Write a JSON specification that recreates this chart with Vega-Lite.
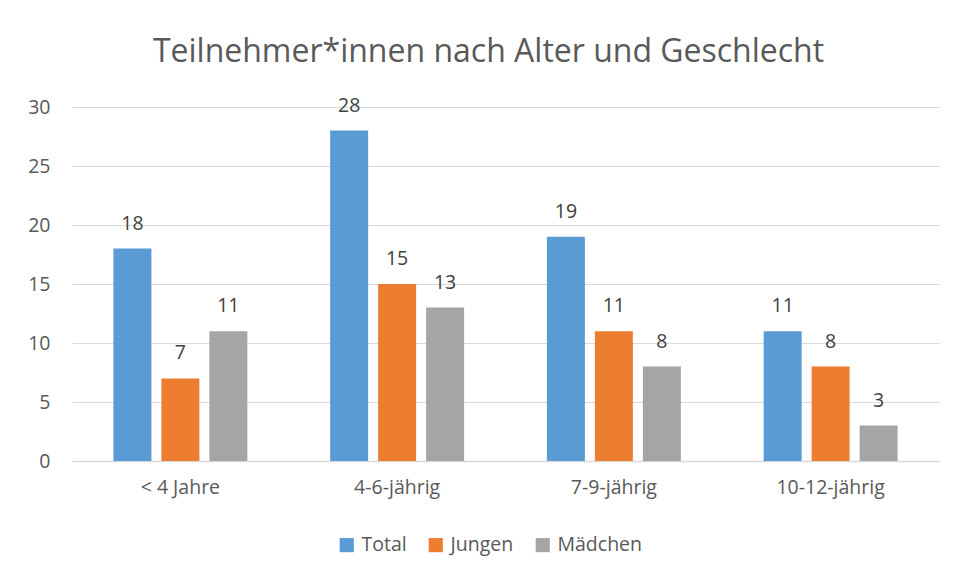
{
  "$schema": "https://vega.github.io/schema/vega-lite/v6.json",
  "width": 867,
  "height": 354,
  "autosize": "none",
  "padding": {"left": 72, "top": 107, "right": 17, "bottom": 118},
  "background": "white",
  "title": {
    "text": "Teilnehmer*innen nach Alter und Geschlecht",
    "font": "Open Sans",
    "fontSize": 32,
    "fontWeight": "normal",
    "color": "#595959",
    "dx": -17,
    "offset": 27
  },
  "data": {
    "values": [
      {"Alter": "< 4 Jahre", "Gruppe": "Total", "Anzahl": 18},
      {"Alter": "< 4 Jahre", "Gruppe": "Jungen", "Anzahl": 7},
      {"Alter": "< 4 Jahre", "Gruppe": "Mädchen", "Anzahl": 11},
      {"Alter": "4-6-jährig", "Gruppe": "Total", "Anzahl": 28},
      {"Alter": "4-6-jährig", "Gruppe": "Jungen", "Anzahl": 15},
      {"Alter": "4-6-jährig", "Gruppe": "Mädchen", "Anzahl": 13},
      {"Alter": "7-9-jährig", "Gruppe": "Total", "Anzahl": 19},
      {"Alter": "7-9-jährig", "Gruppe": "Jungen", "Anzahl": 11},
      {"Alter": "7-9-jährig", "Gruppe": "Mädchen", "Anzahl": 8},
      {"Alter": "10-12-jährig", "Gruppe": "Total", "Anzahl": 11},
      {"Alter": "10-12-jährig", "Gruppe": "Jungen", "Anzahl": 8},
      {"Alter": "10-12-jährig", "Gruppe": "Mädchen", "Anzahl": 3}
    ]
  },
  "encoding": {
    "x": {
      "field": "Alter",
      "type": "nominal",
      "sort": ["< 4 Jahre", "4-6-jährig", "7-9-jährig", "10-12-jährig"],
      "scale": {"paddingInner": 0.382, "paddingOuter": 0.191},
      "axis": {
        "title": null,
        "labelAngle": 0,
        "labelFont": "Open Sans",
        "labelFontSize": 19.5,
        "labelColor": "#595959",
        "labelPadding": 17,
        "ticks": false,
        "domainColor": "#D9D9D9",
        "domainWidth": 1.5
      }
    },
    "xOffset": {
      "field": "Gruppe",
      "type": "nominal",
      "sort": ["Total", "Jungen", "Mädchen"],
      "scale": {"paddingInner": 0.208, "paddingOuter": 0}
    },
    "y": {
      "field": "Anzahl",
      "type": "quantitative",
      "scale": {"domain": [0, 30]},
      "axis": {
        "title": null,
        "values": [0, 5, 10, 15, 20, 25, 30],
        "labelFont": "Open Sans",
        "labelFontSize": 19.5,
        "labelColor": "#595959",
        "labelPadding": 22,
        "ticks": false,
        "domain": false,
        "gridColor": "#D9D9D9",
        "gridWidth": 1.2
      }
    },
    "color": {
      "field": "Gruppe",
      "type": "nominal",
      "sort": ["Total", "Jungen", "Mädchen"],
      "scale": {"domain": ["Total", "Jungen", "Mädchen"], "range": ["#5B9BD5", "#ED7D31", "#A5A5A5"]},
      "legend": {
        "title": null,
        "orient": "none",
        "direction": "horizontal",
        "legendX": 265,
        "legendY": 428,
        "symbolType": "square",
        "symbolSize": 200,
        "symbolStrokeWidth": 0,
        "labelFont": "Open Sans",
        "labelFontSize": 19.5,
        "labelColor": "#595959",
        "labelOffset": 5,
        "columnPadding": 19
      }
    }
  },
  "layer": [
    {"mark": {"type": "bar"}},
    {
      "mark": {"type": "text", "baseline": "bottom", "dy": -15, "font": "Open Sans", "fontSize": 19.5, "color": "#404040"},
      "encoding": {"text": {"field": "Anzahl", "type": "quantitative"}, "color": {"value": "#404040"}}
    }
  ],
  "config": {"view": {"stroke": null}}
}
